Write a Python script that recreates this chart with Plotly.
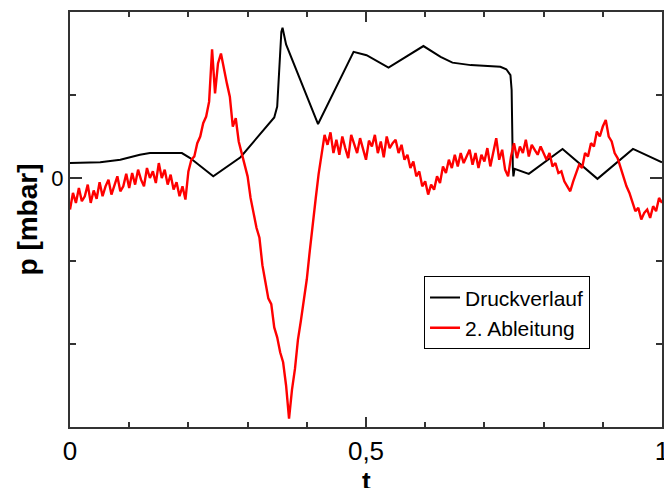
import numpy as np
import plotly.graph_objects as go

# Pressure curve (Druckverlauf): time t and pressure p
t_druck = [0.000, 0.051, 0.085, 0.118, 0.135, 0.189, 0.203, 0.242, 0.288, 0.321,
           0.338, 0.345, 0.350, 0.354, 0.357, 0.359, 0.362, 0.365, 0.419, 0.479,
           0.501, 0.538, 0.597, 0.626, 0.646, 0.677, 0.727, 0.737, 0.744, 0.746,
           0.748, 0.749, 0.751, 0.775, 0.832, 0.891, 0.951, 1.000]
p_druck = [0.18, 0.19, 0.22, 0.28, 0.30, 0.30, 0.24, 0.02, 0.25, 0.52,
           0.66, 0.73, 0.86, 1.36, 1.76, 1.81, 1.69, 1.61, 0.65, 1.52,
           1.48, 1.33, 1.59, 1.46, 1.39, 1.36, 1.34, 1.31, 1.24, 1.06,
           0.13, 0.02, 0.11, 0.05, 0.35, -0.01, 0.35, 0.19]

# Second derivative (2. Ableitung), sampled every 0.005
t_abl = np.round(np.arange(201) * 0.005, 3)
p_abl = [
    -0.38, -0.18, -0.30, -0.12, -0.28, -0.22, -0.08, -0.30, -0.15, -0.25,
    -0.05, -0.22, -0.10, -0.02, -0.20, -0.08, 0.02, -0.16, -0.10, 0.05,
    -0.12, 0.06, -0.08, 0.10, -0.02, -0.10, 0.12, 0.00, 0.08, -0.06,
    0.18, 0.00, 0.10, -0.08, 0.04, -0.14, -0.05, -0.22, -0.10, -0.26,
    0.08, 0.22, 0.26, 0.42, 0.50, 0.66, 0.74, 0.92, 1.55, 1.02,
    1.38, 1.50, 1.30, 1.14, 0.98, 0.62, 0.72, 0.44, 0.30, 0.16,
    0.02, -0.24, -0.42, -0.60, -0.72, -1.05, -1.25, -1.45, -1.52, -1.80,
    -1.92, -2.10, -2.22, -2.50, -2.90, -2.55, -2.30, -1.95, -1.72, -1.45,
    -1.22, -0.88, -0.52, -0.25, 0.05, 0.30, 0.52, 0.40, 0.55, 0.30,
    0.46, 0.28, 0.50, 0.36, 0.24, 0.52, 0.40, 0.30, 0.48, 0.35,
    0.22, 0.45, 0.38, 0.52, 0.30, 0.44, 0.25, 0.50, 0.36, 0.42,
    0.46, 0.30, 0.40, 0.22, 0.28, 0.12, 0.20, 0.02, 0.08, -0.10,
    -0.04, -0.20, -0.08, -0.14, 0.02, -0.06, 0.14, 0.06, 0.22, 0.12,
    0.28, 0.14, 0.30, 0.18, 0.26, 0.34, 0.16, 0.30, 0.12, 0.28,
    0.20, 0.36, 0.14, 0.30, 0.48, 0.22, 0.34, 0.10, 0.02, 0.26,
    0.42, 0.24, 0.38, 0.30, 0.46, 0.26, 0.40, 0.34, 0.28, 0.38,
    0.30, 0.22, 0.30, 0.14, 0.18, 0.06, 0.08, -0.04, -0.10, -0.16,
    -0.04, 0.06, 0.16, 0.12, 0.30, 0.26, 0.42, 0.38, 0.56, 0.50,
    0.62, 0.70, 0.50, 0.44, 0.30, 0.24, 0.12, 0.02, -0.10, -0.18,
    -0.28, -0.40, -0.36, -0.50, -0.42, -0.38, -0.48, -0.34, -0.40, -0.24, -0.30,
]

x_tickvals = [0, 0.5, 1]
x_ticktext = ["0", "0,5", "1"]
y_tickvals = [0]
y_ticktext = ["0"]

FONT = "Liberation Sans, Arial, sans-serif"
AXIS = "#333333"

fig = go.Figure()
fig.add_trace(go.Scatter(x=t_druck, y=p_druck, mode="lines", name="Druckverlauf",
                         line=dict(color="black", width=2)))
fig.add_trace(go.Scatter(x=t_abl, y=p_abl, mode="lines", name="2. Ableitung",
                         line=dict(color="#ff0000", width=2.4)))

fig.update_layout(
    width=664, height=488,
    margin=dict(l=70, r=2, t=12, b=61, autoexpand=False),
    paper_bgcolor="white", plot_bgcolor="white",
    font=dict(family=FONT, color="black"),
    showlegend=True,
    legend=dict(x=0.598, y=0.363, xanchor="left", yanchor="top",
                bgcolor="white", bordercolor="black", borderwidth=1,
                font=dict(family=FONT, size=21), itemwidth=30),
)

# x-axis title sits low, partly below the page edge
fig.add_annotation(text="<b>t</b>", xref="paper", yref="paper",
                   x=0.5, y=-0.088, xanchor="center", yanchor="top",
                   showarrow=False, font=dict(family=FONT, size=26))

fig.update_xaxes(
    range=[0, 1], showgrid=False, zeroline=False, automargin=False,
    showline=True, linecolor=AXIS, linewidth=2, mirror="ticks",
    ticks="inside", ticklen=10, tickwidth=1.5, tickcolor=AXIS,
    tickvals=x_tickvals, ticktext=x_ticktext,
    tickfont=dict(family=FONT, size=26), ticklabeloverflow="allow",
    minor=dict(dtick=0.1, ticks="inside", ticklen=5, tickwidth=1.5, tickcolor=AXIS),
)
fig.update_yaxes(
    range=[-3, 2], showgrid=False, zeroline=False, automargin=False,
    showline=True, linecolor=AXIS, linewidth=2, mirror="ticks",
    ticks="inside", ticklen=12, tickwidth=1.5, tickcolor=AXIS,
    tickvals=y_tickvals, ticktext=y_ticktext,
    tickfont=dict(family=FONT, size=22),
    minor=dict(dtick=1, ticks="inside", ticklen=6, tickwidth=1.5, tickcolor=AXIS),
    title=dict(text="<b>p [mbar]</b>", font=dict(family=FONT, size=28), standoff=6),
)

fig.write_html("out.html")
